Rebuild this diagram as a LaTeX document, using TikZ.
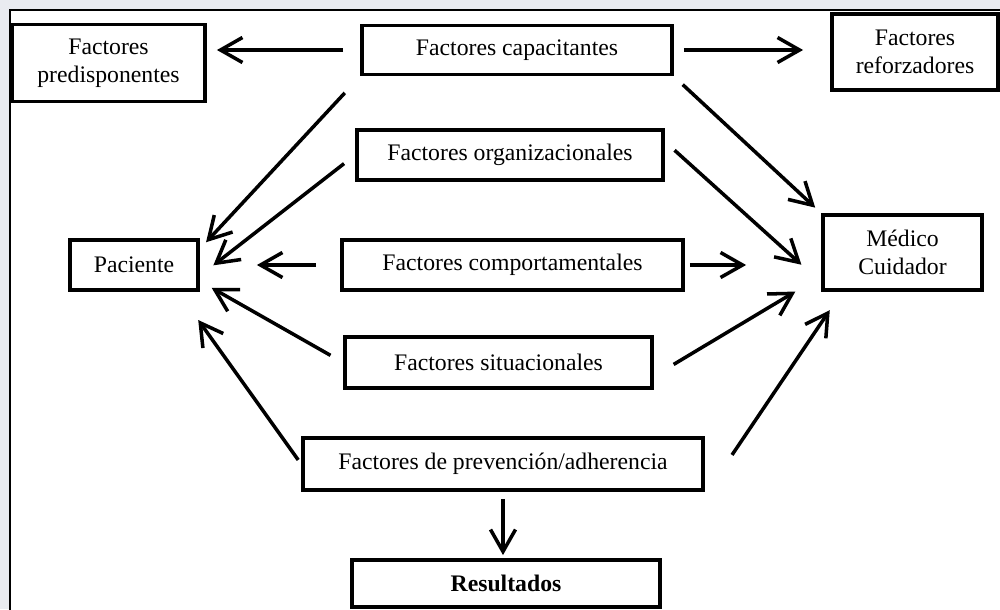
\documentclass[tikz,border=0pt]{standalone}
\usepackage{fontspec}
\setmainfont{Liberation Serif}
\usepackage{tikz}
\usetikzlibrary{arrows.meta,calc}
\definecolor{pagegray}{HTML}{E9EBF0}

\begin{document}
\begin{tikzpicture}[x=0.02cm, y=-0.02cm,
		box/.style={draw, line width=2.2pt, inner sep=0pt, align=center,
			font=\fontsize{13.5}{16}\selectfont},
		flow/.style={line width=2pt, -{Straight Barb[length=0.44cm,width=0.5cm]}}]
			% frame
			\useasboundingbox (0,0) rectangle (1000,609);
			\fill[pagegray] (0,0) rectangle (1000,609);
			\fill[white] (10,10) rectangle (1002,611);
			\draw[line width=1.2pt] (10,611) -- (10,10) -- (1002,10);
			% boxes
			\node[box, minimum width=3.86cm, minimum height=1.54cm] (pred) at (108.5,63) {Factores\\predisponentes};
			\node[box, minimum width=6.2cm, minimum height=0.98cm] (capa) at (517,50) {Factores capacitantes};
			\node[box, minimum width=3.32cm, minimum height=1.52cm] (refo) at (915,52) {Factores\\reforzadores};
			\node[box, minimum width=6.12cm, minimum height=1cm] (orga) at (510,155) {Factores organizacionales};
			\node[box, minimum width=2.56cm, minimum height=1cm] (paci) at (134,265) {Paciente};
			\node[box, minimum width=6.82cm, minimum height=1cm] (comp) at (512.5,265) {Factores comportamentales};
			\node[box, minimum width=3.18cm, minimum height=1.5cm] (medi) at (902.5,252.5) {Médico\\Cuidador};
			\node[box, minimum width=6.14cm, minimum height=1.02cm] (situ) at (498.5,362.5) {Factores situacionales};
			\node[box, minimum width=8cm, minimum height=1.04cm] (prev) at (503,464) {Factores de prevención/adherencia};
			\node[box, minimum width=6.16cm, minimum height=0.94cm, font=\fontsize{13.5}{16}\selectfont\bfseries] (resu) at (506,583.5) {Resultados};
			% connectors
			\path[flow]
			(capa.west) edge[shorten <=0.34cm, shorten >=0.2cm] (capa.west -| pred.east)
			(capa.east) edge[shorten <=0.2cm, shorten >=0.54cm] (capa.east -| refo.west)
			(capa.south west) edge[shorten <=0.45cm, shorten >=0.18cm] ($(paci.east)!.6!(paci.north east)$)
			(capa.south east) edge[shorten <=0.24cm, shorten >=0.16cm] (medi.north west)
			(orga.west) edge[shorten <=0.28cm, shorten >=0.34cm] ($(paci.east)!.4!(paci.south east)$)
			($(orga.east)!.5!(orga.north east)$) edge[shorten <=0.26cm, shorten >=0.53cm] ($(medi.west)!.76!(medi.south west)$)
			(comp.west) edge[shorten <=0.48cm, shorten >=1.14cm] (paci.east)
			(comp.east) edge[shorten <=0.1cm, shorten >=1.5cm] (comp.east -| medi.west)
			(situ.west) edge[shorten <=0.29cm, shorten >=0.27cm] ($(paci.east)!.6!(paci.south east)$)
			($(situ.east)!.5!(situ.south east)$) edge[shorten <=0.46cm, shorten >=0.6cm] ($(medi.west)!.6!(medi.south west)$)
			(prev.west) edge[shorten <=0.1cm, shorten >=0.69cm] ($(paci.south)!.67!(paci.south east)$)
			($(prev.east)+(21,0)$) edge[shorten <=0.22cm, shorten >=0.44cm] ($(medi.south west)+(21,0)$)
			(prev.south) edge[shorten <=0.14cm, shorten >=0.06cm] (prev.south |- resu.north);
		\end{tikzpicture}
\end{document}
